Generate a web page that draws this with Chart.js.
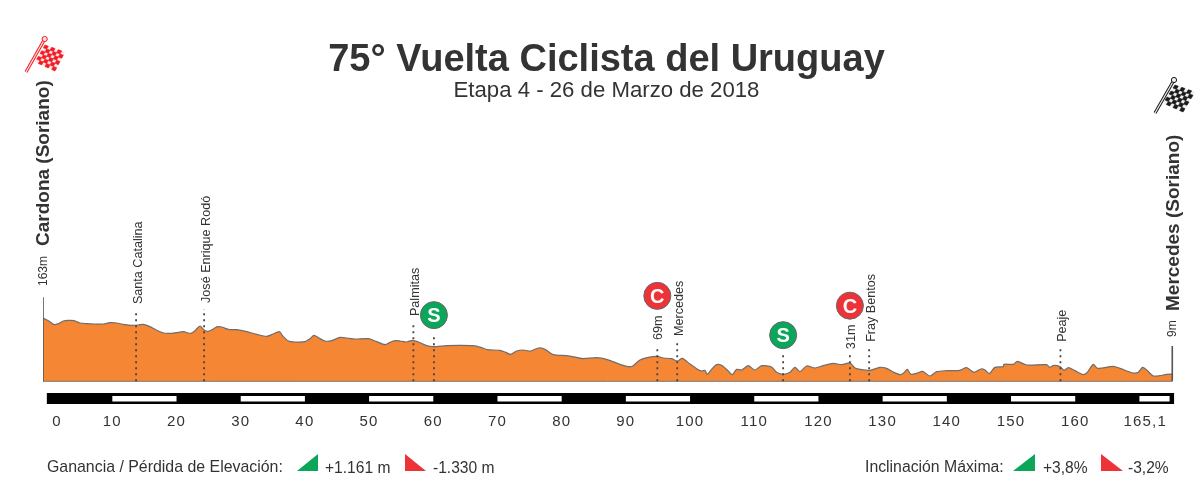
<!DOCTYPE html>
<html>
<head>
<meta charset="utf-8">
<title>75° Vuelta Ciclista del Uruguay</title>
<script src="https://cdn.jsdelivr.net/npm/chart.js@4"></script>
<style>
  html, body { margin: 0; padding: 0; background: #fff; }
  canvas { display: block; }
</style>
</head>
<body>
<canvas id="myChart" width="1200" height="492"></canvas>
<script>
// profile (x is position along the distance bar, y is metres)
var profileKm = [-0.8,0.04,0.92,1.6,2.37,3.15,4.04,4.97,6.01,7.31,8.61,9.64,10.68,11.72,13.02,14.06,14.84,15.87,16.91,17.95,19.25,20.29,21.07,22.21,22.88,23.66,24.29,24.96,25.74,26.36,27.04,28.08,29.37,30.93,32.49,34.05,34.82,36.02,36.54,37.42,38.46,40.02,40.8,41.42,42.09,43.13,44.17,45.47,46.51,47.8,49.88,51.18,52.48,53.26,54.04,54.81,55.85,56.78,57.67,58.96,60,62.08,64.16,66.23,67.53,68.41,70.39,71.17,72.05,72.98,74.02,75.16,76.36,77.39,78.69,80.77,82.33,83.37,85.44,87,89.08,90.12,91,92.19,93.49,94.89,95.83,97.12,98,98.79,99.98,101.02,101.8,102.32,102.68,103.35,104.13,104.91,105.95,106.57,107.25,108.03,109.07,110.1,111.14,112.7,113.48,114.52,115.56,116.33,117.12,118.16,119.46,120.75,122.31,123.61,124.91,125.69,126.73,128.02,129.58,130.62,131.66,132.7,133.32,133.84,134.41,135.29,136.23,137.37,138.41,139.96,142.04,143.08,144.22,145.31,145.94,146.61,147.49,148.79,148.9,150.35,150.97,152.43,155.54,156.06,156.68,157.62,158.29,158.92,159.95,161.25,161.88,162.81,163.48,165.92,166.96,169.04,169.82,170.49,171.12,172.15,173.19,174.23,175.12];
var profileAlt = [163,155.8,144.8,147.5,154.8,156.7,155.8,149.3,147.5,146.6,146.6,150.3,149.3,145.7,142.9,143.8,145.7,139.3,129.2,121.8,120.9,123.7,125.5,120.9,128.3,141.1,130.1,126.4,132.8,139.3,138.3,131.9,131,125.5,118.2,112.7,117.3,125.5,113.6,99.8,97.1,98,106.3,115.4,109,99.8,100.8,109.9,108.1,105.3,106.3,98,89.8,96.2,100.8,99.9,97.1,101.7,97.1,87,84.3,87,87.9,87,81.5,76,74.2,69.6,63.2,72.3,75.1,72.3,80.6,76.9,62.3,59.5,54.9,51.3,54,49.4,35.7,30.2,30.2,47.6,54.9,57.7,53.1,51.3,44.8,52.2,36.6,23.8,17.3,19.2,8.2,21.9,34.8,32.9,17.3,7.3,21.9,20.1,32,20.1,32,28.3,13.7,8.2,13.7,27.4,15.5,31.1,25.6,32,38.4,34.8,39.3,25.6,21,19.2,27.4,24.7,14.6,7.3,12.8,21.9,8.2,10.9,16.4,3.6,15.5,18.3,19.2,26.5,13.7,22.8,20.1,10,27.4,29.3,35.7,35.7,43.9,33.8,34.8,27.4,32.9,29.3,19.2,26.5,18.3,7.3,13.7,35.7,24.7,30.2,24.7,11.8,13.7,27.4,20.1,3.6,4.5,8.2,9];

// places along the route
var placeKm = [13.7, 24.3, 56.9, 98, 127.9, 157.7];
var placeNames = ['Santa Catalina', 'José Enrique Rodó', 'Palmitas', 'Mercedes', 'Fray Bentos', 'Peaje'];
var placeTop = [185, 188, 152, 97, 81, 81];

// sprints and climbs
var markerKm = [60.1, 94.9, 114.5, 124.9];
var markerAlt = [171, 224, 116, 197];
var markerStemTop = [116, 86, 61, 61];
var markerLetters = ['S', 'C', 'S', 'C'];
var markerNotes = ['', '69m', '', '31m'];

// distance bar and ticks
var whiteStart = [10, 30, 50, 70, 90, 110, 130, 150, 170];
var whiteEnd = [20, 40, 60, 80, 100, 120, 140, 160, 174.7];
var tickKm = [1.4, 10, 20, 30, 40, 50, 60, 70, 80, 90, 100, 110, 120, 130, 140, 150, 160, 170.9];
var tickLabels = ['0', '10', '20', '30', '40', '50', '60', '70', '80', '90', '100', '110', '120', '130', '140', '150', '160', '165,1'];

var baseAlt = -11;
var barAlt = -58;
var FONT = '"Liberation Sans", Arial, sans-serif';
var GREEN = '#0ca65a';
var RED = '#ee3338';

function zip(xs, ys) {
  return xs.map(function (x, i) { return { x: x, y: ys[i] }; });
}

// one line dataset with gaps, from lists of pairs
function segments(pairs) {
  var out = [];
  pairs.forEach(function (p) {
    out.push({ x: p[0], y: p[1] }, { x: p[2], y: p[3] }, { x: p[2], y: null });
  });
  return out;
}

var stems = placeKm.map(function (km, i) { return [km, baseAlt, km, placeTop[i]]; })
  .concat(markerKm.map(function (km, i) { return [km, baseAlt, km, markerStemTop[i]]; }));

function text(ctx, str, x, y, font, align, color) {
  ctx.font = font + ' ' + FONT;
  ctx.textAlign = align || 'left';
  ctx.textBaseline = 'alphabetic';
  ctx.fillStyle = color || '#333';
  ctx.fillText(str, x, y);
}

function upText(ctx, str, x, bottom, font, color) {
  ctx.save();
  ctx.translate(x, bottom);
  ctx.rotate(-Math.PI / 2);
  text(ctx, str, 0, 0, font, 'left', color);
  ctx.restore();
}

function triangle(ctx, color, a, b, c) {
  ctx.fillStyle = color;
  ctx.beginPath();
  ctx.moveTo(a[0], a[1]);
  ctx.lineTo(b[0], b[1]);
  ctx.lineTo(c[0], c[1]);
  ctx.closePath();
  ctx.fill();
}

function flag(ctx, color, pale, poleA, poleB, c) {
  var n = 6;
  function pt(u, v) {
    return [
      (1 - u) * (1 - v) * c[0][0] + u * (1 - v) * c[1][0] + u * v * c[2][0] + (1 - u) * v * c[3][0],
      (1 - u) * (1 - v) * c[0][1] + u * (1 - v) * c[1][1] + u * v * c[2][1] + (1 - u) * v * c[3][1]
    ];
  }
  function quad(p) {
    ctx.beginPath();
    ctx.moveTo(p[0][0], p[0][1]);
    ctx.lineTo(p[1][0], p[1][1]);
    ctx.lineTo(p[2][0], p[2][1]);
    ctx.lineTo(p[3][0], p[3][1]);
    ctx.closePath();
  }
  ctx.fillStyle = pale;
  quad(c);
  ctx.fill();
  ctx.fillStyle = color;
  ctx.strokeStyle = color;
  ctx.lineWidth = 0.6;
  for (var i = 0; i < n; i++) {
    for (var j = 0; j < n; j++) {
      if ((i + j) % 2) continue;
      quad([pt(i / n, j / n), pt((i + 1) / n, j / n), pt((i + 1) / n, (j + 1) / n), pt(i / n, (j + 1) / n)]);
      ctx.fill();
      ctx.stroke();
    }
  }
  ctx.strokeStyle = color;
  ctx.lineWidth = 3.2;
  ctx.beginPath();
  ctx.moveTo(poleA[0], poleA[1]);
  ctx.lineTo(poleB[0], poleB[1]);
  ctx.stroke();
  ctx.strokeStyle = pale;
  ctx.lineWidth = 1.2;
  ctx.stroke();
  ctx.beginPath();
  ctx.arc(poleB[0], poleB[1], 2.6, 0, Math.PI * 2);
  ctx.fillStyle = pale;
  ctx.fill();
  ctx.strokeStyle = color;
  ctx.lineWidth = 1;
  ctx.stroke();
}

var annotations = {
  id: 'annotations',
  beforeDraw: function (chart) { chart.ctx.letterSpacing = '1.2px'; },
  beforeDatasetsDraw: function (chart) { chart.ctx.letterSpacing = '0px'; },
  afterDraw: function (chart) {
    var ctx = chart.ctx, x = chart.scales.x, y = chart.scales.y;

    text(ctx, '75° Vuelta Ciclista del Uruguay', 606.5, 71, 'bold 38px', 'center');
    text(ctx, 'Etapa 4 - 26 de Marzo de 2018', 606.5, 97, '22.2px', 'center');

    upText(ctx, 'Cardona (Soriano)', 49, 246, 'bold 19px');
    upText(ctx, '163m', 47, 286, '12px');
    upText(ctx, 'Mercedes (Soriano)', 1179, 311, 'bold 19px');
    upText(ctx, '9m', 1176, 337, '12px');

    placeKm.forEach(function (km, i) {
      upText(ctx, placeNames[i], x.getPixelForValue(km) + 6, y.getPixelForValue(placeTop[i]) - 6, '12.6px');
    });
    markerKm.forEach(function (km, i) {
      var px = x.getPixelForValue(km);
      text(ctx, markerLetters[i], px, y.getPixelForValue(markerAlt[i]) + 7, 'bold 20px', 'center', '#fff');
      if (markerNotes[i]) {
        upText(ctx, markerNotes[i], px + 5, y.getPixelForValue(markerStemTop[i]) - 6, '12.6px');
      }
    });

    text(ctx, 'Ganancia / Pérdida de Elevación:', 47, 472, '15.9px');
    triangle(ctx, GREEN, [297, 471], [318, 454], [318, 471]);
    text(ctx, '+1.161 m', 325, 473, '15.6px');
    triangle(ctx, RED, [405, 454], [405, 471], [426, 471]);
    text(ctx, '-1.330 m', 433, 473, '15.6px');
    text(ctx, 'Inclinación Máxima:', 865, 472, '15.8px');
    triangle(ctx, GREEN, [1013, 471], [1035, 454], [1035, 471]);
    text(ctx, '+3,8%', 1043, 473, '15.6px');
    triangle(ctx, RED, [1101, 454], [1101, 471], [1123, 471]);
    text(ctx, '-3,2%', 1128, 473, '15.6px');

    flag(ctx, '#f01c24', '#ffe3e3', [26, 72], [44.7, 39], [[45, 45], [65, 52], [55, 71], [35, 62]]);
    flag(ctx, '#1a1a1a', '#eeeeee', [1155, 113], [1174, 80], [[1175, 85], [1195, 92], [1183, 112], [1163, 103]]);
  }
};

new Chart(document.getElementById('myChart'), {
  type: 'line',
  data: {
    datasets: [
      {
        data: zip(markerKm, markerAlt),
        showLine: false,
        pointRadius: 13.5,
        pointBackgroundColor: markerLetters.map(function (l) { return l === 'S' ? GREEN : RED; }),
        pointBorderColor: '#666',
        pointBorderWidth: 1,
        order: 1
      },
      {
        // dotted stems
        data: segments(stems),
        borderColor: '#444',
        borderWidth: 1.8,
        borderDash: [2, 4],
        pointRadius: 0,
        order: 2
      },
      {
        data: zip(profileKm, profileAlt),
        borderColor: '#6e6e6e',
        borderWidth: 1.2,
        backgroundColor: '#f58634',
        fill: { value: baseAlt },
        tension: 0.25,
        pointRadius: 0,
        order: 4
      },
      {
        // start and finish uprights
        data: segments([[-0.8, baseAlt, -0.8, 220], [175.12, baseAlt, 175.12, 86]]),
        borderColor: '#555',
        borderWidth: 1.6,
        pointRadius: 0,
        order: 3
      },
      {
        // ground line
        data: [{ x: -0.8, y: baseAlt }, { x: 175.12, y: baseAlt }],
        borderColor: '#777',
        borderWidth: 1,
        pointRadius: 0,
        order: 3
      },
      {
        data: segments(whiteStart.map(function (s, i) { return [s, barAlt - 1, whiteEnd[i], barAlt - 1]; })),
        borderColor: '#fff',
        borderWidth: 5.6,
        borderCapStyle: 'butt',
        pointRadius: 0,
        order: 5
      },
      {
        data: [{ x: -0.2, y: barAlt }, { x: 175.4, y: barAlt }],
        borderColor: '#000',
        borderWidth: 11,
        borderCapStyle: 'butt',
        pointRadius: 0,
        order: 6
      }
    ]
  },
  options: {
    responsive: false,
    animation: false,
    layout: { padding: { left: 43, right: 24, top: 100, bottom: 58 } },
    plugins: {
      legend: { display: false },
      tooltip: { enabled: false }
    },
    scales: {
      x: {
        type: 'linear',
        min: -0.8,
        max: 175.7,
        grid: { display: false, drawTicks: false },
        border: { display: false },
        afterBuildTicks: function (axis) {
          axis.ticks = tickKm.map(function (v) { return { value: v }; });
        },
        ticks: {
          autoSkip: false,
          maxRotation: 0,
          padding: 3,
          color: '#333',
          font: { family: 'Liberation Sans', size: 15 },
          callback: function (value, index) { return tickLabels[index]; }
        }
      },
      y: {
        display: false,
        min: -89.9,
        max: 762.6
      }
    }
  },
  plugins: [annotations]
});
</script>
</body>
</html>
